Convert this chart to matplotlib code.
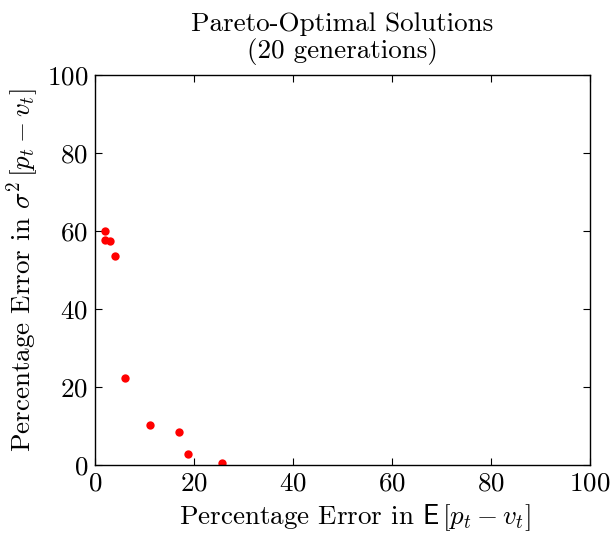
import matplotlib
matplotlib.use("Agg")
import matplotlib.pyplot as plt

# Computer Modern look (cmr10 ships with matplotlib)
plt.rcParams['font.family'] = 'cmr10'
plt.rcParams['mathtext.fontset'] = 'cm'
plt.rcParams['axes.formatter.use_mathtext'] = True
plt.rcParams['axes.unicode_minus'] = False

# pareto front after 20 generations
mean_err = [1.96, 1.96, 3.0, 4.1, 6.0, 11.1, 16.9, 18.8, 25.7]
var_err = [60.1, 57.8, 57.4, 53.5, 22.2, 10.3, 8.5, 2.7, 0.5]
ticks = [0, 20, 40, 60, 80, 100]

fig = plt.figure(figsize=(6.1, 5.4), dpi=100)
ax = fig.add_axes([95 / 610, 75 / 540, 495 / 610, 390 / 540])

ax.plot(mean_err, var_err, 'o', color='red', markersize=6, markeredgewidth=0)

ax.set_xlim(0, 100)
ax.set_ylim(0, 100)
ax.set_xticks(ticks)
ax.set_yticks(ticks)
ax.tick_params(direction='in', length=5, width=0.8, top=True, right=True,
               labelsize=19.5, pad=5)
for s in ax.spines.values():
    s.set_linewidth(1.0)

ax.set_title("Pareto-Optimal Solutions\n(20 generations)", fontsize=19.5,
             linespacing=1.1, pad=12)
ax.set_xlabel(r"Percentage Error in $\mathsf{E}\,[p_t - v_t]$", fontsize=19.5,
              labelpad=4)
ax.xaxis.set_label_coords(0.5 + 12.5 / 495, -0.095)
ax.set_ylabel(r"Percentage Error in $\sigma^{\boldsymbol{2}}\,[p_t - v_t]$",
              fontsize=19.5, labelpad=4)

fig.savefig("out.png", dpi=100)
